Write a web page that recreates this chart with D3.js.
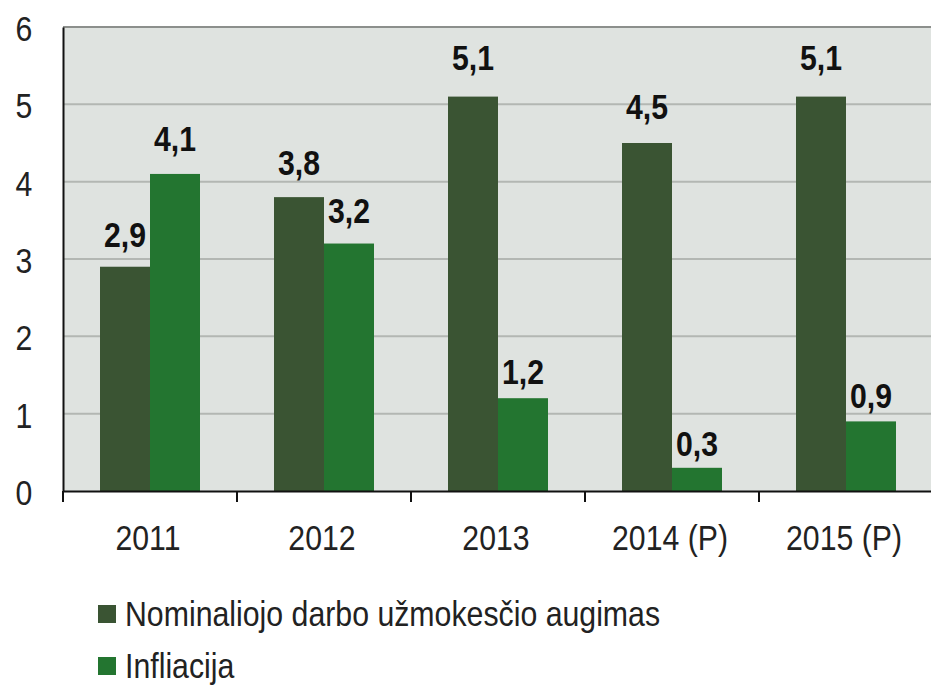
<!DOCTYPE html>
<html>
<head>
<meta charset="utf-8">
<script src="https://cdn.jsdelivr.net/npm/d3@7"></script>
<style>
  body { margin: 0; background: #fff; }
  svg { display: block; }
  text { font-family: 'Liberation Sans', Arial, sans-serif; }
</style>
</head>
<body>
<svg id="chart" width="931" height="685"></svg>
<script>
var categories = ['2011', '2012', '2013', '2014 (P)', '2015 (P)'];
var wages = [2.9, 3.8, 5.1, 4.5, 5.1];
var inflation = [4.1, 3.2, 1.2, 0.3, 0.9];
var seriesNames = ['Nominaliojo darbo užmokesčio augimas', 'Infliacija'];
var yTicks = [0, 1, 2, 3, 4, 5, 6];

var color = {
  wages: '#3a5433',
  inflation: '#237530'
};

// the original text is narrow, squeeze it horizontally
var squeeze = 0.84;

var margin = { top: 27, right: -2, bottom: 194, left: 63 };
var svg = d3.select('#chart');
var width = +svg.attr('width') - margin.left - margin.right;
var height = +svg.attr('height') - margin.top - margin.bottom;

var g = svg.append('g')
  .attr('transform', 'translate(' + margin.left + ',' + margin.top + ')');

var x = d3.scaleBand()
  .domain(categories)
  .range([0, width])
  .paddingInner(0)
  .paddingOuter(0);

var y = d3.scaleLinear()
  .domain([0, 6])
  .range([height, 0]);

// value labels sit a bit higher on taller bars
var yLabel = d3.scaleLinear()
  .domain([0, 6])
  .range([height - 11, -29]);

var barW = 50;

function place(sel, fx, fy, sx) {
  sel.attr('transform', function(d, i) {
    return 'translate(' + fx(d, i) + ',' + fy(d, i) + ') scale(' + (sx || squeeze) + ',1)';
  });
}

// plot background
g.append('rect')
  .attr('width', width)
  .attr('height', height)
  .style('fill', '#dfe3e0');

// grid lines
g.append('g').selectAll('line')
  .data(yTicks.slice(1))
  .enter().append('line')
  .attr('x1', 0)
  .attr('x2', width)
  .attr('y1', function(d) { return y(d); })
  .attr('y2', function(d) { return y(d); })
  .style('stroke', function(d) { return d === 6 ? '#8c8f8c' : '#b3b7b3'; })
  .style('stroke-width', 2);

var data = categories.map(function(c, i) {
  return { cat: c, wages: wages[i], inflation: inflation[i] };
});

var groups = g.append('g').selectAll('.group')
  .data(data)
  .enter().append('g')
  .attr('class', 'group')
  .attr('transform', function(d) {
    return 'translate(' + (x(d.cat) + x.bandwidth() / 2) + ',0)';
  });

['wages', 'inflation'].forEach(function(key, k) {
  var off = k === 0 ? -barW : 0;
  groups.append('rect')
    .attr('x', off)
    .attr('width', barW)
    .attr('y', function(d) { return y(d[key]); })
    .attr('height', function(d) { return height - y(d[key]); })
    .style('fill', color[key]);

  groups.append('text')
    .attr('text-anchor', 'middle')
    .style('font-size', '36px')
    .style('font-weight', 'bold')
    .style('fill', '#111')
    .text(function(d) { return d[key].toFixed(1).replace('.', ','); })
    .call(place, function() { return off + barW / 2; }, function(d) { return yLabel(d[key]); });
});

// y axis
var yAxis = g.append('g')
  .call(d3.axisLeft(y).tickValues(yTicks).tickSize(0).tickFormat(d3.format('d')));
yAxis.select('.domain').style('stroke', '#111').style('stroke-width', 2);
yAxis.selectAll('.tick text')
  .attr('x', null)
  .attr('dy', null)
  .attr('text-anchor', 'middle')
  .attr('dominant-baseline', 'central')
  .style('font-size', '36px')
  .style('fill', '#222')
  .call(place, function() { return -39; }, function() { return 1; });

// x axis
var xAxis = g.append('g')
  .attr('transform', 'translate(0,' + height + ')')
  .call(d3.axisBottom(x).tickSize(0));
xAxis.select('.domain').style('stroke', '#111').style('stroke-width', 2);
xAxis.selectAll('.tick text')
  .attr('y', null)
  .attr('dy', null)
  .style('font-size', '36px')
  .style('fill', '#222')
  .call(place, function() { return -2; }, function() { return 59; });

// category separators
g.append('g').selectAll('line')
  .data([0].concat(categories.slice(0, -1).map(function(c) { return x(c) + x.bandwidth(); })))
  .enter().append('line')
  .attr('x1', function(d) { return d; })
  .attr('x2', function(d) { return d; })
  .attr('y1', height)
  .attr('y2', height + 11)
  .style('stroke', '#111')
  .style('stroke-width', 2);

// legend
var legend = svg.append('g').selectAll('.legend')
  .data(seriesNames)
  .enter().append('g')
  .attr('class', 'legend')
  .attr('transform', function(d, i) {
    return 'translate(98,' + (605 + i * 52) + ')';
  });

legend.append('rect')
  .attr('width', 18)
  .attr('height', 18)
  .style('fill', function(d, i) { return i === 0 ? color.wages : color.inflation; });

legend.append('text')
  .style('font-size', '35px')
  .style('fill', '#222')
  .text(function(d) { return d; })
  .call(place, function() { return 27; }, function() { return 21; }, 0.865);
</script>
</body>
</html>
